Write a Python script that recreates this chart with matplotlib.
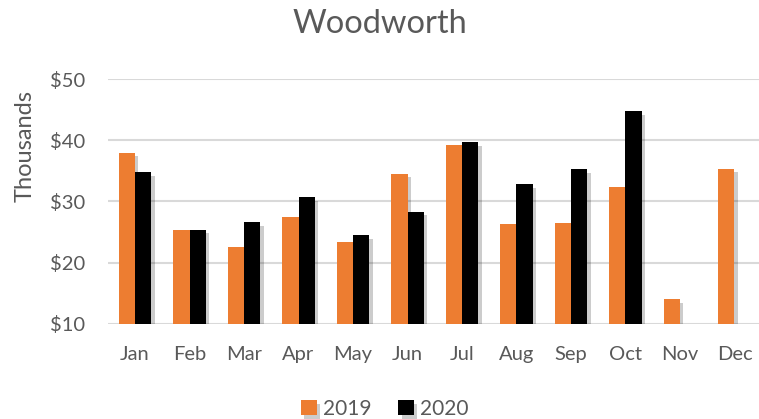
import numpy as np
import matplotlib
matplotlib.use("Agg")
import matplotlib.pyplot as plt
import matplotlib.patheffects as pe
from matplotlib.ticker import FuncFormatter

months = ["Jan", "Feb", "Mar", "Apr", "May", "Jun", "Jul", "Aug", "Sep", "Oct", "Nov", "Dec"]
sales_2019 = [38.0, 25.3, 22.5, 27.5, 23.3, 34.5, 39.2, 26.3, 26.4, 32.4, 14.0, 35.4]
sales_2020 = [34.8, 25.4, 26.6, 30.7, 24.5, 28.3, 39.7, 32.8, 35.3, 44.8, np.nan, np.nan]

plt.rcParams['font.family'] = ['Lato', 'DejaVu Sans']
grey = "#595959"

fig = plt.figure(figsize=(7.59, 4.19), dpi=100)
ax = fig.add_axes([0.142, 0.2275, 0.858, 0.5832])

x = np.arange(len(months))
w = 0.3
shadow = [pe.SimplePatchShadow(offset=(2.5, -2.5), shadow_rgbFace="#000000", alpha=0.2), pe.Normal()]
b1 = ax.bar(x - w / 2, np.array(sales_2019) - 10, w, bottom=10, color="#ED7D31", label="2019", zorder=3)
b2 = ax.bar(x + w / 2, np.array(sales_2020) - 10, w, bottom=10, color="#000000", label="2020", zorder=3)
for p in list(b1) + list(b2):
    p.set_path_effects(shadow)

ax.set_ylim(10, 50)
ax.set_xlim(-0.5, 11.45)
ax.set_yticks([10, 20, 30, 40, 50])
ax.yaxis.set_major_formatter(FuncFormatter(lambda v, _: f"${v:.0f}"))
ax.set_xticks(x)
ax.set_xticklabels(months)
ax.grid(axis="y", color="#d9d9d9", linewidth=1.5, zorder=0)
for s in ax.spines.values():
    s.set_visible(False)
ax.tick_params(length=0, labelsize=14.5, colors=grey)
ax.tick_params(axis="y", pad=16)
ax.tick_params(axis="x", pad=16)

fig.text(0.5, 0.943, "Woodworth", ha="center", va="center", fontsize=23.5, color=grey)
fig.text(0.033, 0.652, "Thousands", rotation=90, ha="center", va="center", fontsize=17, color=grey)

fig.legend(loc="center", bbox_to_anchor=(0.507, 0.024), ncol=2, frameon=False,
           fontsize=15, handlelength=0.75, handleheight=0.75, handletextpad=0.3, columnspacing=1.3,
           labelcolor=grey, borderpad=0)

fig.savefig("out.png", dpi=100)
